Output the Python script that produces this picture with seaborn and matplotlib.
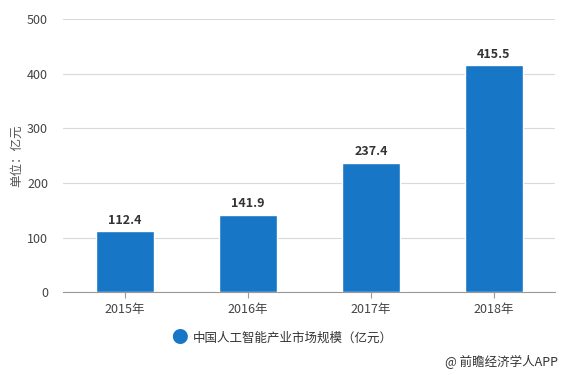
import numpy as np
import pandas as pd
import matplotlib
matplotlib.use("Agg")
import matplotlib.pyplot as plt
import seaborn as sns

years = ["2015年", "2016年", "2017年", "2018年"]
values = [112.4, 141.9, 237.4, 415.5]
series_name = "中国人工智能产业市场规模（亿元）"
yticks = [0, 100, 200, 300, 400, 500]

sns.set_style("white")
plt.rcParams["font.family"] = ["Noto Sans CJK SC", "DejaVu Sans"]

df = pd.DataFrame({"year": years, "value": values})
bar_color = "#1776C6"

fig = plt.figure(figsize=(5.65, 3.75), dpi=100)
ax = fig.add_axes([0.112, 0.221, 0.871, 0.728])

sns.barplot(data=df, x="year", y="value", color=bar_color, width=0.47,
            saturation=1, ax=ax, zorder=3)

ax.set_ylim(0, 500)
ax.set_yticks(yticks)
ax.set_yticklabels([str(t) for t in yticks], fontsize=9, color="#444444")
ax.tick_params(axis="x", labelsize=9, labelcolor="#444444", length=4,
               color="#999999", direction="out", bottom=True)
ax.tick_params(axis="y", length=0, pad=11)
ax.grid(axis="y", color="#d9d9d9", linewidth=0.8, zorder=0)
for s in ["top", "right", "left"]:
    ax.spines[s].set_visible(False)
ax.spines["bottom"].set_color("#999999")
ax.set_xlabel("")
ax.set_ylabel("单位：亿元", fontsize=9, color="#555555", labelpad=3)

for c in ax.containers:
    ax.bar_label(c, labels=[f"{v:.1f}" for v in values], padding=3,
                 fontsize=9, fontweight="bold", color="#333333")

fig.text(0.318, 0.098, "●", fontsize=12, color=bar_color, ha="center", va="center")
fig.text(0.342, 0.098, series_name, fontsize=9, color="#333333", va="center")
fig.text(0.988, 0.035, "@ 前瞻经济学人APP", fontsize=9, color="#333333",
         ha="right", va="center")

fig.savefig("out.png", dpi=100)
